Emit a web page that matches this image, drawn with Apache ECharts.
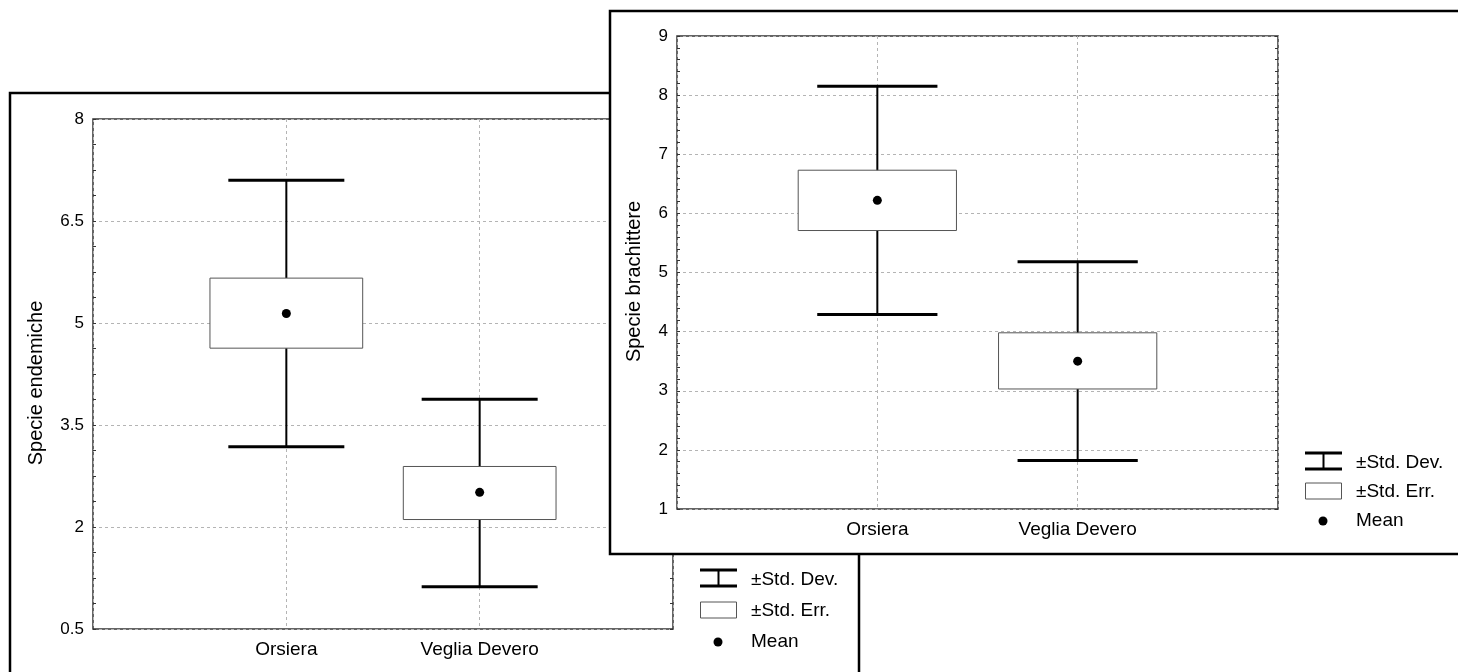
<!DOCTYPE html>
<html>
<head>
<meta charset="utf-8">
<script src="https://cdn.jsdelivr.net/npm/echarts@6/dist/echarts.min.js"></script>
<style>
html,body{margin:0;padding:0;background:#fff;}
#chart{width:1458px;height:672px;}
</style>
</head>
<body>
<div id="chart"></div>
<script>
// ---- data ----
const categories = ['Orsiera', 'Veglia Devero'];

// Panel A: Specie endemiche
const endMean   = [5.14, 2.51];
const endSeLow  = [4.63, 2.11];
const endSeHigh = [5.66, 2.89];
const endSdLow  = [3.18, 1.12];
const endSdHigh = [7.10, 3.88];
const endTicks  = { min: 0.5, max: 8, interval: 1.5 };

// Panel B: Specie brachittere
const braMean   = [6.22, 3.50];
const braSeLow  = [5.71, 3.03];
const braSeHigh = [6.73, 3.98];
const braSdLow  = [4.29, 1.82];
const braSdHigh = [8.15, 5.18];
const braTicks  = { min: 1, max: 9, interval: 1 };

const legendLabels = ['±Std. Dev.', '±Std. Err.', 'Mean'];
const axisNames = ['Specie endemiche', 'Specie brachittere'];

// ---- helpers ----
const FONT = "'Liberation Sans', Arial, sans-serif";
const axisCats = [''].concat(categories, ['']);

function boxData(sdLo, seLo, seHi, sdHi) {
  return categories.map((c, i) => [c, sdLo[i], seLo[i], seHi[i], sdHi[i]]);
}
function meanData(m) {
  return categories.map((c, i) => [c, m[i]]);
}
function renderBox(params, api) {
  const x = api.value(0);
  const pLo = api.coord([x, api.value(1)]);
  const pSeLo = api.coord([x, api.value(2)]);
  const pSeHi = api.coord([x, api.value(3)]);
  const pHi = api.coord([x, api.value(4)]);
  const band = api.size([1, 0])[0];
  const bw = band * 0.395, cw = band * 0.30;
  const cx = pLo[0];
  return {
    type: 'group',
    children: [
      { type: 'line', shape: { x1: cx, y1: pLo[1], x2: cx, y2: pHi[1] }, style: { stroke: '#000', lineWidth: 2 } },
      { type: 'line', shape: { x1: cx - cw, y1: pLo[1], x2: cx + cw, y2: pLo[1] }, style: { stroke: '#000', lineWidth: 3 } },
      { type: 'line', shape: { x1: cx - cw, y1: pHi[1], x2: cx + cw, y2: pHi[1] }, style: { stroke: '#000', lineWidth: 3 } },
      { type: 'rect', shape: { x: cx - bw, y: pSeHi[1], width: 2 * bw, height: pSeLo[1] - pSeHi[1] }, style: { fill: '#fff', stroke: '#555', lineWidth: 1 } }
    ]
  };
}

function makeGrid(left, top, width, height, zl) {
  return { left, top, width, height, show: true, borderColor: '#333', borderWidth: 1.5, backgroundColor: 'transparent', zlevel: zl, containLabel: false };
}
function makeX(gi, zl) {
  return {
    type: 'category', gridIndex: gi, data: axisCats, boundaryGap: false, zlevel: zl,
    axisLine: { show: false }, axisTick: { show: false },
    axisLabel: { interval: 0, color: '#000', fontFamily: FONT, fontSize: 19, margin: 11 },
    splitLine: { show: true, interval: 0, lineStyle: { color: '#b4b4b4', type: [3, 3], width: 1 } }
  };
}
function makeY(gi, t, name, minorSplit, gap, zl, pos) {
  const isLeft = pos === 'left';
  return {
    type: 'value', gridIndex: gi, position: pos, min: t.min, max: t.max, interval: t.interval, zlevel: zl,
    name: isLeft ? name : '', nameLocation: 'middle', nameGap: gap,
    nameTextStyle: { color: '#000', fontFamily: FONT, fontSize: 20, padding: [0, 18, 0, 0] },
    axisLine: { show: false },
    axisTick: { show: true, inside: true, length: 3, lineStyle: { color: '#333' } },
    minorTick: { show: true, splitNumber: minorSplit, length: 3, lineStyle: { color: '#333' } },
    axisLabel: { show: isLeft, color: '#000', fontFamily: FONT, fontSize: 17, margin: 9 },
    splitLine: { show: isLeft, lineStyle: { color: '#b4b4b4', type: [3, 3], width: 1 } }
  };
}

function legendGroup(x, yDev, yErr, yMean, zl) {
  const t = (y, s) => ({ type: 'text', x: x + 51, y: y, zlevel: zl, z: 5,
    style: { text: s, fill: '#000', font: "19px 'Liberation Sans', Arial, sans-serif", textVerticalAlign: 'middle', verticalAlign: 'middle' } });
  return [
    { type: 'line', zlevel: zl, z: 5, shape: { x1: x, y1: yDev - 8, x2: x + 37, y2: yDev - 8 }, style: { stroke: '#000', lineWidth: 3 } },
    { type: 'line', zlevel: zl, z: 5, shape: { x1: x, y1: yDev + 8, x2: x + 37, y2: yDev + 8 }, style: { stroke: '#000', lineWidth: 3 } },
    { type: 'line', zlevel: zl, z: 5, shape: { x1: x + 18.5, y1: yDev - 8, x2: x + 18.5, y2: yDev + 8 }, style: { stroke: '#000', lineWidth: 2 } },
    { type: 'rect', zlevel: zl, z: 5, shape: { x: x + 0.5, y: yErr - 8, width: 36, height: 16 }, style: { fill: '#fff', stroke: '#555', lineWidth: 1 } },
    { type: 'circle', zlevel: zl, z: 5, shape: { cx: x + 18, cy: yMean, r: 4.5 }, style: { fill: '#000' } },
    t(yDev + 2, legendLabels[0]), t(yErr + 1, legendLabels[1]), t(yMean, legendLabels[2])
  ];
}

const chart = echarts.init(document.getElementById('chart'), null, { renderer: 'canvas' });
const option = {
  backgroundColor: '#fff',
  animation: false,
  grid: [
    makeGrid(93, 119, 580, 510, 0),
    makeGrid(677, 36, 601, 473, 1)
  ],
  xAxis: [makeX(0, 0), makeX(1, 1)],
  yAxis: [
    makeY(0, endTicks, axisNames[0], 4, 47, 0, 'left'),
    makeY(0, endTicks, '', 4, 0, 0, 'right'),
    makeY(1, braTicks, axisNames[1], 5, 33, 1, 'left'),
    makeY(1, braTicks, '', 5, 0, 1, 'right')
  ],
  graphic: {
    elements: [
      { type: 'rect', zlevel: 0, z: -1, shape: { x: 10, y: 93, width: 849, height: 620 }, style: { fill: '#fff', stroke: '#000', lineWidth: 2.5 } },
      { type: 'rect', zlevel: 1, z: -1, shape: { x: 610, y: 11, width: 870, height: 543 }, style: { fill: '#fff', stroke: '#000', lineWidth: 2.5 } }
    ].concat(legendGroup(700, 578, 610, 642, 0), legendGroup(1305, 461, 491, 521, 1))
  },
  series: [
    { type: 'custom', name: legendLabels[0], xAxisIndex: 0, yAxisIndex: 0, zlevel: 0, z: 3,
      renderItem: renderBox, encode: { x: 0, y: [1, 2, 3, 4] }, data: boxData(endSdLow, endSeLow, endSeHigh, endSdHigh) },
    { type: 'scatter', name: legendLabels[2], xAxisIndex: 0, yAxisIndex: 0, zlevel: 0, z: 4,
      symbol: 'circle', symbolSize: 9, itemStyle: { color: '#000', opacity: 1 }, data: meanData(endMean) },
    { type: 'custom', name: legendLabels[0], xAxisIndex: 1, yAxisIndex: 2, zlevel: 1, z: 3,
      renderItem: renderBox, encode: { x: 0, y: [1, 2, 3, 4] }, data: boxData(braSdLow, braSeLow, braSeHigh, braSdHigh) },
    { type: 'scatter', name: legendLabels[2], xAxisIndex: 1, yAxisIndex: 2, zlevel: 1, z: 4,
      symbol: 'circle', symbolSize: 9, itemStyle: { color: '#000', opacity: 1 }, data: meanData(braMean) }
  ]
};
chart.setOption(option);
</script>
</body>
</html>
